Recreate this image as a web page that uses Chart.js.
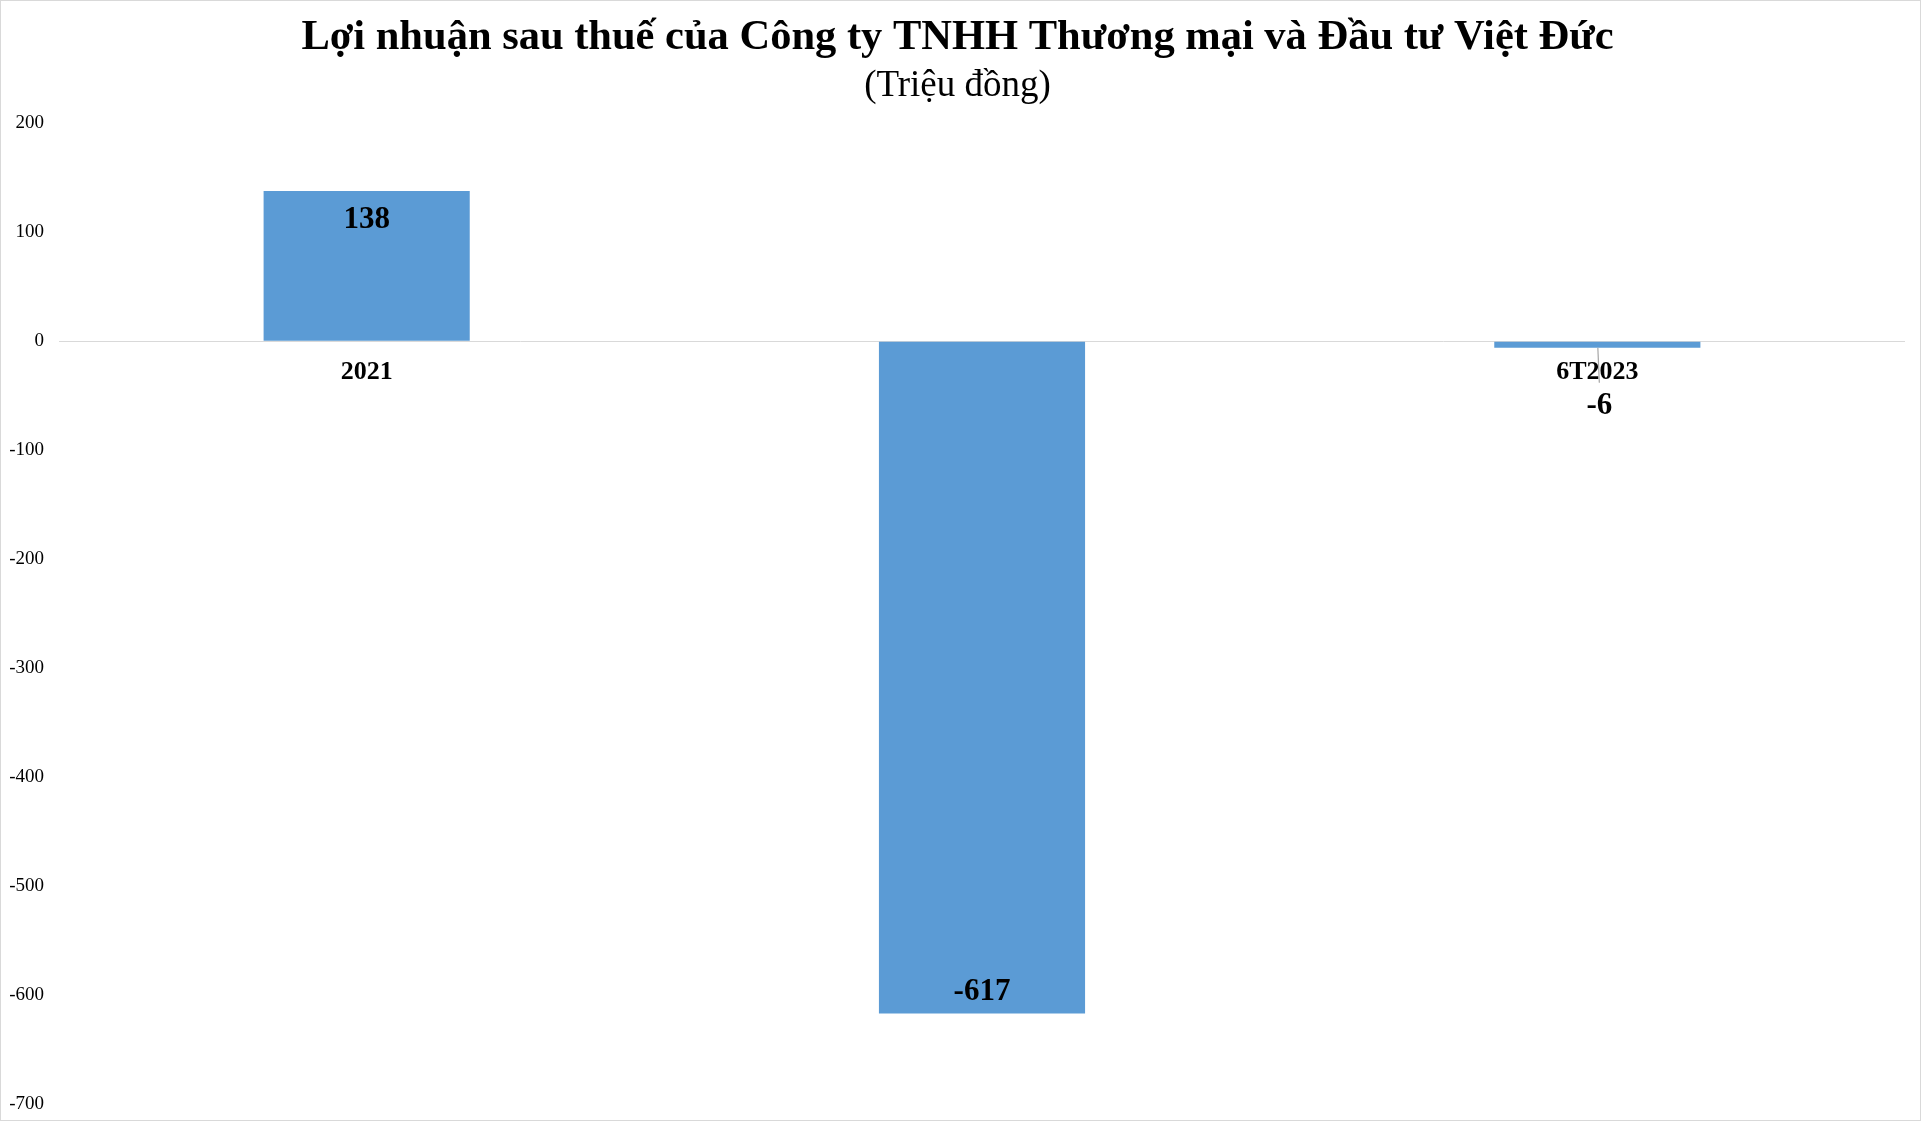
<!DOCTYPE html>
<html>
<head>
<meta charset="utf-8">
<title>Lợi nhuận sau thuế</title>
<script src="https://cdn.jsdelivr.net/npm/chart.js@4"></script>
<style>
  html, body { margin: 0; padding: 0; background: #fff; }
  #wrap { width: 1921px; height: 1121px; }
</style>
</head>
<body>
<div id="wrap"><canvas id="profitChart" width="1921" height="1121"></canvas></div>
<script>
const categories = ['2021', '2022', '6T2023'];
const profitValues = [138, -617, -6];
const yMin = -700;
const yMax = 200;
const yStep = 100;

const serif = "'Liberation Serif', 'Times New Roman', serif";

// white background + thin grey frame
const frame = {
    id: 'frame',
    beforeDraw(chart) {
        const ctx = chart.ctx;
        ctx.save();
        ctx.fillStyle = '#fff';
        ctx.fillRect(0, 0, chart.width, chart.height);
        ctx.strokeStyle = '#D9D9D9';
        ctx.lineWidth = 1;
        ctx.strokeRect(0.5, 0.5, chart.width - 1, chart.height - 1);
        ctx.restore();
    }
};

// value labels: inside the bar end, or below with a leader line if the bar is too short
const valueLabels = {
    id: 'valueLabels',
    afterDraw(chart) {
        const ctx = chart.ctx;
        const meta = chart.getDatasetMeta(0);
        const values = chart.data.datasets[0].data;
        ctx.save();
        ctx.font = 'bold 31px ' + serif;
        ctx.fillStyle = '#000';
        ctx.textAlign = 'center';
        ctx.textBaseline = 'middle';
        meta.data.forEach(function(bar, i) {
            const v = values[i];
            const h = Math.abs(bar.base - bar.y);
            if (h > 50) {
                const y = v >= 0 ? bar.y + 29 : bar.y - 22;
                ctx.fillText(String(v), bar.x, y);
            } else {
                const end = Math.max(bar.y, bar.base);
                ctx.strokeStyle = '#A6A6A6';
                ctx.lineWidth = 1.2;
                ctx.beginPath();
                ctx.moveTo(bar.x + 0.5, end);
                ctx.lineTo(bar.x + 2, end + 35);
                ctx.stroke();
                ctx.fillText(String(v), bar.x + 2, end + 58);
            }
        });
        ctx.restore();
    }
};

const chart = new Chart(document.getElementById('profitChart').getContext('2d'), {
    type: 'bar',
    data: {
        labels: categories,
        datasets: [{
            label: 'Lợi nhuận sau thuế',
            data: profitValues,
            backgroundColor: '#5B9BD5',
            borderWidth: 0,
            barPercentage: 0.335,
            categoryPercentage: 1
        }]
    },
    options: {
        responsive: false,
        animation: false,
        devicePixelRatio: 1,
        layout: {
            padding: { left: 10, right: 16, top: 0, bottom: 17 }
        },
        plugins: {
            legend: { display: false },
            tooltip: { enabled: false },
            title: {
                display: true,
                text: 'Lợi nhuận sau thuế của Công ty TNHH Thương mại và Đầu tư Việt Đức',
                color: '#000',
                font: { family: serif, size: 42.5, weight: 'bold' },
                padding: { top: 13, bottom: 0 }
            },
            subtitle: {
                display: true,
                text: '(Triệu đồng)',
                color: '#000',
                font: { family: serif, size: 37, weight: 'normal' },
                padding: { top: 0, bottom: 15 }
            }
        },
        scales: {
            x: {
                position: { y: 0 },
                z: 1,
                afterFit(scale) { scale.height = 0; },
                grid: { display: false, drawTicks: false },
                border: { display: false },
                ticks: {
                    color: '#000',
                    padding: 15,
                    font: { family: serif, size: 26, weight: 'bold' }
                }
            },
            y: {
                min: yMin,
                max: yMax,
                afterFit(scale) {
                    scale.width = 49;
                    scale.paddingTop = 0;
                    scale.paddingBottom = 0;
                },
                grid: {
                    drawTicks: false,
                    color: ctx => ctx.tick && ctx.tick.value === 0 ? '#D9D9D9' : 'rgba(0,0,0,0)'
                },
                border: { display: false },
                ticks: {
                    stepSize: yStep,
                    color: '#000',
                    padding: 15,
                    font: { family: serif, size: 19 }
                }
            }
        }
    },
    plugins: [frame, valueLabels]
});
</script>
</body>
</html>
